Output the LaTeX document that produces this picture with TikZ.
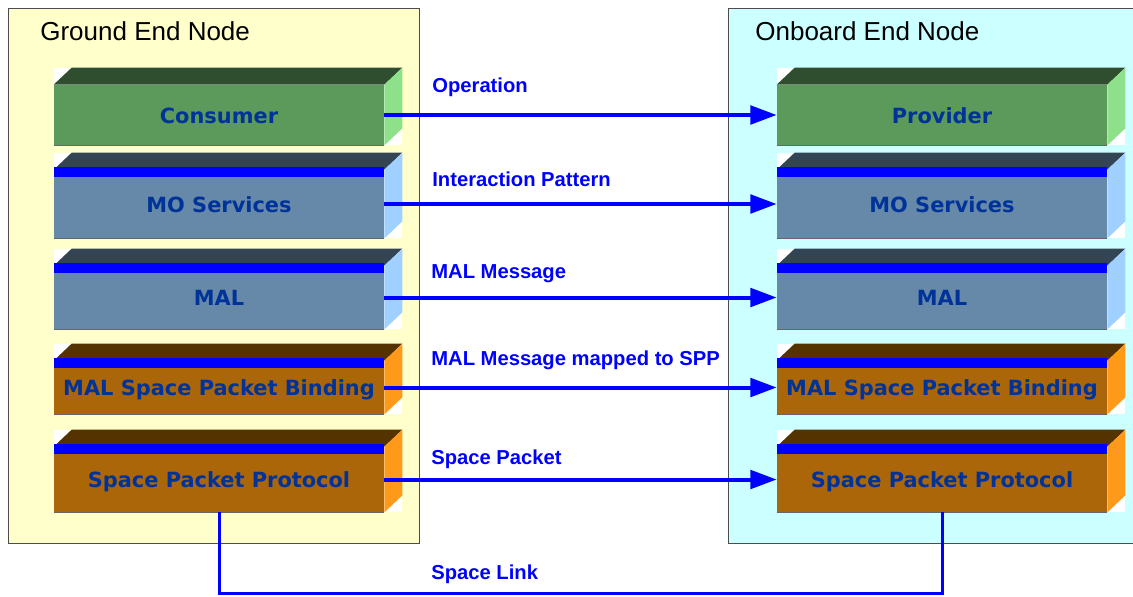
\documentclass[tikz,border=0pt]{standalone}
\usepackage{fontspec}
\setmainfont{Liberation Sans}
\newfontfamily\layerfont{DejaVu Sans}
\usetikzlibrary{arrows.meta,backgrounds,calc}
\definecolor{gndbg}{HTML}{FFFFCC}
\definecolor{obdbg}{HTML}{CCFFFF}
\definecolor{grfront}{HTML}{5B9A5B}
\definecolor{grtop}{HTML}{2F4D2F}
\definecolor{grside}{HTML}{8EE08A}
\definecolor{blfront}{HTML}{6689AA}
\definecolor{bltop}{HTML}{334455}
\definecolor{blside}{HTML}{A0D0FF}
\definecolor{brfront}{HTML}{AA6608}
\definecolor{brtop}{HTML}{553300}
\definecolor{brside}{HTML}{FF9919}
\definecolor{txtblue}{HTML}{003399}
\definecolor{msgblue}{HTML}{0000FF}

\tikzset{
  layer/.style={inner sep=0pt, minimum width=6.6cm, text=txtblue,
    text height=0.95em, text depth=0pt,
    font=\layerfont\bfseries\fontsize{11.9}{13}\selectfont},
  endnode/.style={draw=black!70, line width=0.5pt},
  title/.style={anchor=west, inner sep=0pt, font=\fontsize{14.8}{16}\selectfont},
  lbl/.style={anchor=west, inner sep=0pt, text=msgblue, font=\bfseries\fontsize{11.5}{13}\selectfont},
  msg/.style={draw=msgblue, line width=0.08cm, -{Triangle[length=15pt,width=10.5pt]}},
  link/.style={draw=msgblue, line width=0.06cm}
}

\begin{document}
\begin{tikzpicture}[x=0.02cm,y=-0.02cm]
\useasboundingbox (0,0) rectangle (1133,596);
\begin{pgfonlayer}{background}
\draw[endnode, fill=gndbg] (8,8) rectangle (419,543);
\draw[endnode, fill=obdbg] (728,8) rectangle (1140,543);
\end{pgfonlayer}
\node[title] (gtitle) at (40,31) {Ground End Node};
\node[title] (otitle) at (755,31) {Onboard End Node};

% ground side
\node[layer, fill=grfront, minimum height=1.2cm] (gcons) at (219,115) {Consumer};
\node[layer, fill=blfront, minimum height=1.36cm] (gmo) at (219,204) {MO Services};
\node[layer, fill=blfront, minimum height=1.26cm] (gmal) at (219,297.5) {MAL};
\node[layer, fill=brfront, minimum height=1.06cm] (gspb) at (219,387.5) {MAL Space Packet Binding};
\node[layer, fill=brfront, minimum height=1.3cm] (gspp) at (219,479.5) {Space Packet Protocol};

% onboard side
\node[layer, fill=grfront, minimum height=1.2cm] (prov) at (942,115) {Provider};
\node[layer, fill=blfront, minimum height=1.36cm] (omo) at (942,204) {MO Services};
\node[layer, fill=blfront, minimum height=1.26cm] (omal) at (942,297.5) {MAL};
\node[layer, fill=brfront, minimum height=1.06cm] (ospb) at (942,387.5) {MAL Space Packet Binding};
\node[layer, fill=brfront, minimum height=1.3cm] (ospp) at (942,479.5) {Space Packet Protocol};

\begin{pgfonlayer}{background}
\foreach \n/\tc/\sc in {gcons/grtop/grside, prov/grtop/grside, gmo/bltop/blside, omo/bltop/blside,
    gmal/bltop/blside, omal/bltop/blside, gspb/brtop/brside, ospb/brtop/brside,
    gspp/brtop/brside, ospp/brtop/brside}{
  \fill[white] ($(\n.north west)+(0,-17)$) rectangle ($(\n.south east)+(18,0)$);
  \fill[\tc] (\n.north west) -- ++(18,-17) -- ($(\n.north east)+(18,-17)$) -- (\n.north east) -- cycle;
  \fill[\sc] (\n.north east) -- ++(18,-17) -- ($(\n.south east)+(18,-17)$) -- (\n.south east) -- cycle;
}
\end{pgfonlayer}
\foreach \n in {gcons,prov,gmo,omo,gmal,omal,gspb,ospb,gspp,ospp}
  \draw[black!60, line width=0.6pt] (\n.south west) -- (\n.south east);
\foreach \n in {gmo,omo,gmal,omal,gspb,ospb,gspp,ospp}
  \fill[msgblue] ($(\n.north west)+(0,-3)$) rectangle ($(\n.north east)+(0,7)$);

% messages
\draw[msg] (gcons) -- (prov);
\draw[msg] (gmo) -- (omo);
\draw[msg] (gmal) -- (omal);
\draw[msg] (gspb) -- (ospb);
\draw[msg] (gspp) -- (ospp);
\node[lbl] (l1) at (432,87) {Operation};
\node[lbl] (l2) at (432,179) {Interaction Pattern};
\node[lbl] (l3) at (431,274) {MAL Message};
\node[lbl] (l4) at (431,360) {MAL Message mapped to SPP};
\node[lbl] (l5) at (431,459) {Space Packet};

% space link
\coordinate (lk) at (581,593);
\draw[link] (gspp) -- (gspp |- lk) -| (ospp);
\node[lbl] (l6) at (431,574) {Space Link};
\end{tikzpicture}
\end{document}
